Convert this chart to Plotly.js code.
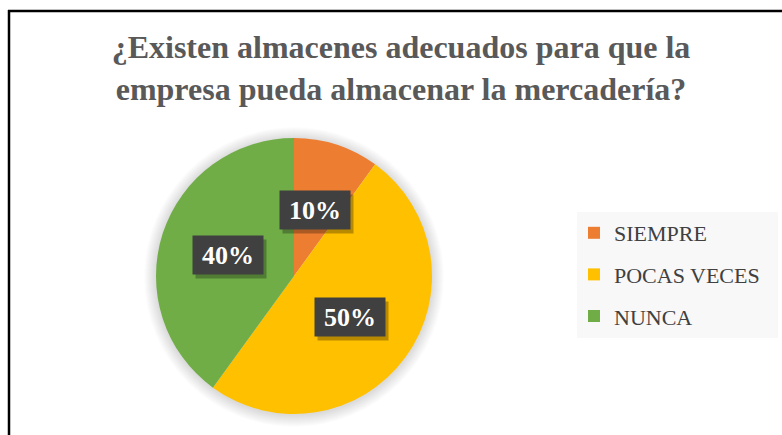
<!DOCTYPE html>
<html>
<head>
<meta charset="utf-8">
<script src="https://cdn.plot.ly/plotly-3.0.1.min.js"></script>
<style>html,body{margin:0;padding:0;background:#fff;}#chart{width:782px;height:435px;}</style>
</head>
<body>
<div id="chart"></div>
<script>
// Data
const categories = ["SIEMPRE", "POCAS VECES", "NUNCA"];
const values = [10, 50, 40];
const labelsText = ["10%", "50%", "40%"];
const colors = ["#ED7D31", "#FFC000", "#70AD47"];
const titleText = "¿Existen almacenes adecuados para que la<br>empresa pueda almacenar la mercadería?";

// Layout geometry (pixels)
const W = 782, H = 435;
const cx = 294, cy = 276, R = 138;

const serif = "Liberation Serif, Times New Roman, serif";

const pieTrace = {
  type: "pie",
  labels: categories,
  values: values,
  sort: false,
  direction: "clockwise",
  rotation: 0,
  textinfo: "none",
  hoverinfo: "label+percent",
  marker: {colors: colors, line: {width: 0}},
  domain: {x: [(cx - R) / W, (cx + R) / W], y: [1 - (cy + R) / H, 1 - (cy - R) / H]},
  showlegend: false
};

// legend entries (one per category)
const legendTraces = categories.map((c, i) => ({
  type: "scatter", mode: "markers", x: [null], y: [null],
  name: c, legendgroup: "g" + i, showlegend: true,
  marker: {symbol: "square", size: 12, color: colors[i]},
  hoverinfo: "skip"
}));

// label annotations positioned from data
const total = values.reduce((a, b) => a + b, 0);
const annotations = [];
let cum = 0;
values.forEach((v, i) => {
  const mid = (cum + v / 2) / total * 2 * Math.PI;
  cum += v;
  const px = cx + 0.5 * R * Math.sin(mid);
  const py = cy - 0.5 * R * Math.cos(mid);
  const base = {
    x: px / W, y: 1 - py / H, xref: "paper", yref: "paper",
    showarrow: false, width: 62, height: 30, borderpad: 4,
    xanchor: "center", yanchor: "middle"
  };
  // drop shadow box
  annotations.push(Object.assign({}, base, {
    text: " ", bgcolor: "rgba(0,0,0,0.28)", xshift: 3, yshift: -4,
    font: {family: serif, size: 26, color: "rgba(0,0,0,0)"}
  }));
  annotations.push(Object.assign({}, base, {
    text: "<b>" + labelsText[i] + "</b>", bgcolor: "#404040",
    font: {family: serif, size: 26, color: "#ffffff"}
  }));
});

// soft glow around pie
const shapes = [];
for (let k = 12; k >= 1; k -= 1) {
  shapes.push({
    type: "circle", xref: "paper", yref: "paper", layer: "below",
    x0: (cx - R - k) / W, x1: (cx + R + k) / W,
    y0: 1 - (cy + R + k + 1) / H, y1: 1 - (cy - R - k + 1) / H,
    fillcolor: "rgba(0,0,0,0.012)", line: {width: 0}
  });
}
// legend background box
shapes.push({
  type: "rect", xref: "paper", yref: "paper", layer: "below",
  x0: 577 / W, x1: 778 / W, y0: 1 - 338 / H, y1: 1 - 212 / H,
  fillcolor: "#f8f8f8", line: {width: 0}
});
// frame lines
shapes.push({type: "line", xref: "paper", yref: "paper", x0: 8 / W, x1: 1, y0: 1 - 11 / H, y1: 1 - 11 / H, line: {color: "#000", width: 2.5}});
shapes.push({type: "line", xref: "paper", yref: "paper", x0: 9 / W, x1: 9 / W, y0: 1 - 10 / H, y1: 0, line: {color: "#000", width: 2.5}});

const layout = {
  width: W, height: H,
  margin: {l: 0, r: 0, t: 0, b: 0},
  paper_bgcolor: "#ffffff", plot_bgcolor: "rgba(0,0,0,0)",
  title: {
    text: "<b>" + titleText + "</b>",
    x: 401 / W, xanchor: "center", xref: "paper",
    y: 1 - 58 / H, yanchor: "middle", yref: "container",
    font: {family: serif, size: 32, color: "#595959"}
  },
  xaxis: {visible: false}, yaxis: {visible: false},
  showlegend: true,
  legend: {
    x: 574 / W, xanchor: "left", y: 1 - 212 / H, yanchor: "top",
    bgcolor: "rgba(0,0,0,0)", borderwidth: 0,
    font: {family: serif, size: 22, color: "#404040"},
    traceorder: "grouped", tracegroupgap: 10
  },
  annotations: annotations,
  shapes: shapes
};

Plotly.newPlot("chart", [pieTrace].concat(legendTraces), layout, {displayModeBar: false, staticPlot: true});
</script>
</body>
</html>
